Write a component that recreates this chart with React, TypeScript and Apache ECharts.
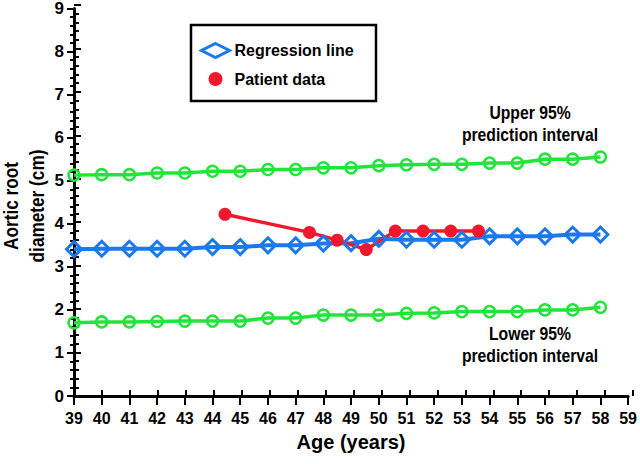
import React, { useEffect, useRef } from "react";
import * as echarts from "echarts";

const years = [39, 40, 41, 42, 43, 44, 45, 46, 47, 48, 49, 50, 51, 52, 53, 54, 55, 56, 57, 58];
const upper95 = [5.13, 5.14, 5.14, 5.18, 5.18, 5.22, 5.22, 5.26, 5.26, 5.3, 5.3, 5.35, 5.37, 5.38, 5.38, 5.41, 5.41, 5.5, 5.5, 5.55];
const regression = [3.41, 3.42, 3.42, 3.42, 3.42, 3.46, 3.46, 3.5, 3.5, 3.54, 3.55, 3.65, 3.63, 3.63, 3.63, 3.71, 3.71, 3.71, 3.75, 3.75];
const lower95 = [1.7, 1.72, 1.72, 1.73, 1.74, 1.74, 1.74, 1.81, 1.81, 1.88, 1.88, 1.88, 1.92, 1.93, 1.96, 1.96, 1.96, 2.0, 2.0, 2.06];
const patientAge = [44.45, 47.5, 48.5, 49.55, 50.6, 51.6, 52.6, 53.6];
const patientDiameter = [4.22, 3.8, 3.62, 3.4, 3.83, 3.83, 3.83, 3.83];

const GREEN = "#22e43a";
const BLUE = "#1c78ee";
const RED = "#f0182c";
const FONT = "'Liberation Sans', Arial, sans-serif";
const CLEAR = "rgba(255,255,255,0)";

export default function App() {
  const ref = useRef<HTMLDivElement>(null);
  useEffect(() => {
    if (!ref.current) return;
    const chart = echarts.init(ref.current, null, { renderer: "svg" });
    const gridBox = { left: 74, right: 7, top: 5, bottom: 68 };
    const baseX = { type: "value", min: 39, max: 59, interval: 1, splitLine: { show: false } };
    const baseY = { type: "value", min: 0, max: 9, interval: 1, splitLine: { show: false } };
    chart.setOption({
      animation: false,
      backgroundColor: "#ffffff",
      textStyle: { fontFamily: FONT },
      grid: [
        { ...gridBox, containLabel: false },
        { ...gridBox, containLabel: false },
      ],
      xAxis: [
        {
          ...baseX,
          gridIndex: 0,
          axisLine: { lineStyle: { color: "#000", width: 3 } },
          axisTick: { show: true, length: 9, lineStyle: { color: "#000", width: 2 } },
          axisLabel: { color: "#000", fontSize: 16, fontWeight: "bold", fontFamily: FONT, margin: 14 },
          name: "Age (years)",
          nameLocation: "middle",
          nameGap: 36,
          nameTextStyle: { color: "#000", fontSize: 20, fontWeight: "bold", fontFamily: FONT },
        },
        {
          ...baseX,
          gridIndex: 1,
          axisLine: { show: false },
          axisTick: { show: true, inside: true, length: 6, lineStyle: { color: "#000", width: 2 } },
          axisLabel: { show: false },
        },
      ],
      yAxis: [
        {
          ...baseY,
          gridIndex: 0,
          axisLine: { lineStyle: { color: "#000", width: 3 } },
          axisTick: { show: true, length: 7, lineStyle: { color: "#000", width: 2 } },
          minorTick: { show: true, splitNumber: 5, length: 4, lineStyle: { color: "#000", width: 2 } },
          axisLabel: { color: "#000", fontSize: 17, fontWeight: "bold", fontFamily: FONT, margin: 10 },
        },
        {
          ...baseY,
          gridIndex: 1,
          axisLine: { show: false },
          axisTick: { show: true, inside: true, length: 7, lineStyle: { color: "#000", width: 2 } },
          minorTick: { show: true, splitNumber: 5, length: 5, lineStyle: { color: "#000", width: 2 } },
          axisLabel: { show: false },
        },
      ],
      legend: {
        left: 200,
        top: 42,
        orient: "vertical",
        padding: 0,
        itemGap: 12,
        itemWidth: 28,
        itemHeight: 14,
        textStyle: { color: "#000", fontSize: 16, fontWeight: "bold", fontFamily: FONT },
        data: [
          { name: "Regression line", icon: "diamond", itemStyle: { color: "#fff", borderColor: BLUE, borderWidth: 3 } },
          { name: "Patient data", icon: "circle", itemStyle: { color: RED, borderWidth: 0 } },
        ],
      },
      graphic: [
        {
          type: "rect",
          shape: { x: 191, y: 25, width: 185, height: 76 },
          style: { fill: "none", stroke: "#000", lineWidth: 2.5 },
          z: 1,
        },
        {
          type: "text",
          x: 24,
          y: 206,
          rotation: Math.PI / 2,
          scaleX: 0.82,
          scaleY: 1,
          style: {
            text: "Aortic root\ndiameter (cm)",
            fill: "#000",
            font: `bold 21px ${FONT}`,
            lineHeight: 26,
            align: "center",
            verticalAlign: "middle",
          },
        },
        {
          type: "text",
          x: 530,
          y: 124,
          scaleX: 0.85,
          scaleY: 1,
          style: {
            text: "Upper 95%\nprediction interval",
            fill: "#000",
            font: `bold 18.5px ${FONT}`,
            lineHeight: 22,
            align: "center",
            verticalAlign: "middle",
          },
        },
        {
          type: "text",
          x: 530,
          y: 345,
          scaleX: 0.85,
          scaleY: 1,
          style: {
            text: "Lower 95%\nprediction interval",
            fill: "#000",
            font: `bold 18.5px ${FONT}`,
            lineHeight: 22,
            align: "center",
            verticalAlign: "middle",
          },
        },
      ],
      series: [
        {
          name: "Upper 95% prediction interval",
          type: "line",
          data: years.map((y, i) => [y, upper95[i]]),
          symbol: "circle",
          symbolSize: 11,
          lineStyle: { color: GREEN, width: 3.5 },
          itemStyle: { color: CLEAR, borderColor: GREEN, borderWidth: 2.5 },
        },
        {
          name: "Lower 95% prediction interval",
          type: "line",
          data: years.map((y, i) => [y, lower95[i]]),
          symbol: "circle",
          symbolSize: 11,
          lineStyle: { color: GREEN, width: 3.5 },
          itemStyle: { color: CLEAR, borderColor: GREEN, borderWidth: 2.5 },
        },
        {
          name: "Regression line",
          type: "line",
          data: years.map((y, i) => [y, regression[i]]),
          symbol: "diamond",
          symbolSize: 15,
          lineStyle: { color: BLUE, width: 4 },
          itemStyle: { color: CLEAR, borderColor: BLUE, borderWidth: 3 },
        },
        {
          name: "Patient data",
          type: "line",
          data: patientAge.map((a, i) => [a, patientDiameter[i]]),
          symbol: "circle",
          symbolSize: 13,
          lineStyle: { color: RED, width: 3.5 },
          itemStyle: { color: RED },
        },
      ],
    });
    return () => chart.dispose();
  }, []);
  return <div ref={ref} style={{ width: 640, height: 464, position: "absolute", left: 0, top: 0 }} />;
}
